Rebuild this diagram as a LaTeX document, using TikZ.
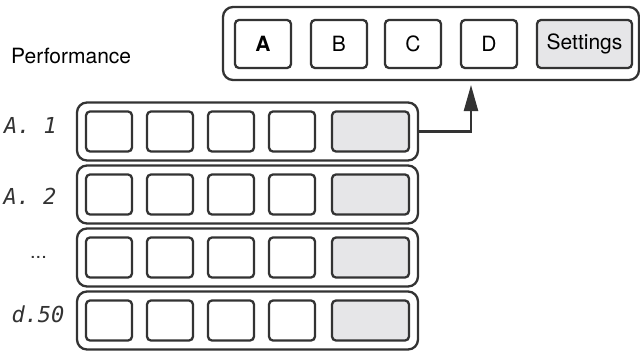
\documentclass[tikz,border=0pt]{standalone}
\usepackage{fontspec}
\setmainfont{TeX Gyre Heros}
\newfontfamily\segfont{DejaVu Sans Mono}
\usepackage{tikz}
\usetikzlibrary{arrows.meta,positioning,calc}

\definecolor{ink}{HTML}{333333}
\definecolor{padgray}{HTML}{E6E6E8}

\tikzset{
  panel/.style={draw=ink, line width=2.3pt, rounded corners=10pt, minimum height=58pt, inner sep=0pt},
  pad/.style={draw=ink, line width=2.3pt, rounded corners=4pt, fill=white, minimum width=46pt, minimum height=40pt, inner sep=0pt},
  padset/.style={pad, fill=padgray, minimum width=77pt},
  key/.style={pad, minimum width=56pt, minimum height=48pt, font=\fontsize{21}{25}\selectfont},
  seg/.style={text=ink, font=\segfont\itshape\fontsize{22}{22}\selectfont},
  link/.style={draw=ink, line width=2.3pt, -{Triangle[length=26pt,width=14pt]}},
}

\begin{document}
\begin{tikzpicture}[x=1pt,y=-1pt]
\useasboundingbox (0,0) rectangle (640,351);

% Top panel
\node[panel, minimum width=416pt, minimum height=73pt] (bank) at (431,43.5) {};
\node[key] (keyA) at (263,44) {\bfseries A};
\node[key] (keyB) at (339,44) {B};
\node[key] (keyC) at (413,44) {C};
\node[key] (keyD) at (489,44) {D};
\node[key, fill=padgray, minimum width=95pt] (keyS) at (584.5,44) {Settings};
\node[anchor=base west, inner sep=0pt, font=\fontsize{21}{25}\selectfont] (perf) at (11,63) {Performance};

% Rows
\foreach \r/\y in {1/131.5, 2/194.5, 3/257.5, 4/320.5} {
  \node[panel, minimum width=341pt] (row\r) at (247.5,\y) {};
  \foreach \k/\x in {1/109, 2/170, 3/231, 4/292}
    \node[pad] (pad\r\k) at (\x,\y) {};
  \node[padset] (set\r) at (370.5,\y) {};
}

% Row labels
\node[seg] (lab1) at (30.5,125) {A.\ 1};
\node[seg] (lab2) at (30,196) {A.\ 2};
\node[text=ink, font=\fontsize{20}{20}\selectfont] (lab3) at (38.5,257.5) {...};
\node[seg] (lab4) at (38,314.5) {d.50};

% Link to top panel
\coordinate (tip) at (471,85);
\draw[link] (row1.east) -| (tip);
\end{tikzpicture}
\end{document}
